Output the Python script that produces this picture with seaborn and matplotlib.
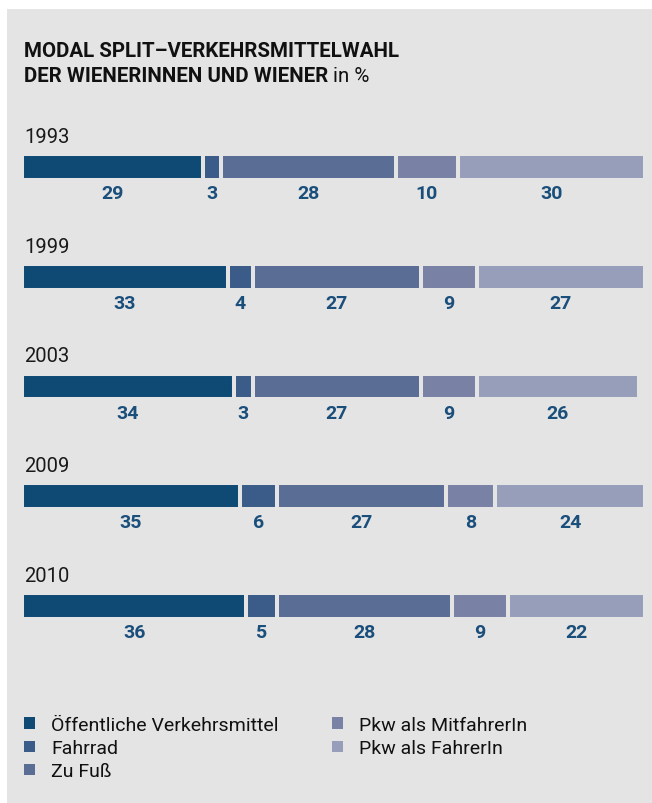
import matplotlib
matplotlib.use("Agg")
import matplotlib.pyplot as plt
from matplotlib.patches import Rectangle, Patch
import numpy as np
import pandas as pd
import seaborn as sns

# Modal split of trips in Vienna, in percent
years = ["1993", "1999", "2003", "2009", "2010"]
modes = ["Öffentliche Verkehrsmittel", "Fahrrad", "Zu Fuß",
         "Pkw als MitfahrerIn", "Pkw als FahrerIn"]
oeffentlich = [29, 33, 34, 35, 36]
fahrrad = [3, 4, 3, 6, 5]
zu_fuss = [28, 27, 27, 27, 28]
pkw_mitfahrer = [10, 9, 9, 8, 9]
pkw_fahrer = [30, 27, 26, 24, 22]

colors = ["#0f4a75", "#3b5b88", "#5a6d94", "#7981a5", "#979eba"]
bg = "#e4e4e4"
label_color = "#1a4e7b"

sns.set_theme(style="white")
FONT = ["Roboto", "DejaVu Sans"]
plt.rcParams["font.family"] = FONT

W, H = 652, 804
fig = plt.figure(figsize=(W / 100, H / 100), dpi=100, facecolor="white")
fig.patches.append(Rectangle((7 / W, 0), 1 - 7 / W + 0.01, 1 - 10 / H,
                             transform=fig.transFigure, facecolor=bg,
                             edgecolor="none", zorder=-5))

# bar area
left_px, right_px = 22, 645
top_px, bot_px = 113.1, 661.9
ax = fig.add_axes([left_px / W, 1 - bot_px / H,
                   (right_px - left_px) / W, (bot_px - top_px) / H])
ax.set_facecolor("none")
ax.set_zorder(2)

df = pd.DataFrame({"year": years,
                   modes[0]: oeffentlich, modes[1]: fahrrad, modes[2]: zu_fuss,
                   modes[3]: pkw_mitfahrer, modes[4]: pkw_fahrer})
cum = df[modes].cumsum(axis=1)

# stacked bars: draw cumulative totals from the largest down
for k in range(len(modes) - 1, -1, -1):
    sns.barplot(x=cum[modes[k]].values, y=df["year"], order=years,
                orient="h", color=colors[k], saturation=1,
                edgecolor=bg, linewidth=2.9, width=0.236, ax=ax)

ax.set_xlim(0, 100)
ax.set_ylim(len(years) - 0.5, -0.5)
ax.axis("off")

for i, yr in enumerate(years):
    ax.text(0.32, i - 0.228, yr, fontsize=14.5, color="#1a1a1a",
            va="baseline", ha="left")
    start = 0
    for k, m in enumerate(modes):
        v = df.loc[i, m]
        ax.text(start + v / 2, i + 0.2825, f"{v}", fontsize=14,
                fontweight="bold", color=label_color,
                ha="center", va="baseline")
        start += v

# title
x0 = 24 / W
fig.text(x0, 1 - 57 / H, "MODAL SPLIT–VERKEHRSMITTELWAHL", fontsize=14.8,
         fontweight="bold", color="#111111", va="baseline")
t2 = fig.text(x0, 1 - 82 / H, "DER WIENERINNEN UND WIENER", fontsize=14.8,
              fontweight="bold", color="#111111", va="baseline")
fig.canvas.draw()
bb = t2.get_window_extent(fig.canvas.get_renderer())
fig.text(bb.x1 / W + 5 / W, 1 - 82 / H, "in %", fontsize=14.8,
         color="#111111", va="baseline")

# legend
handles = [Patch(facecolor=c, edgecolor="none") for c in colors]
fig.legend(handles, modes, ncol=2, loc="upper left",
           bbox_to_anchor=(24 / W, 1 - 717 / H), frameon=False,
           fontsize=14, handlelength=0.55, handleheight=0.55,
           handletextpad=0.85, labelspacing=0.27, columnspacing=2.75,
           borderaxespad=0, borderpad=0, labelcolor="#111111")

fig.savefig("out.png", dpi=100, facecolor="white")
